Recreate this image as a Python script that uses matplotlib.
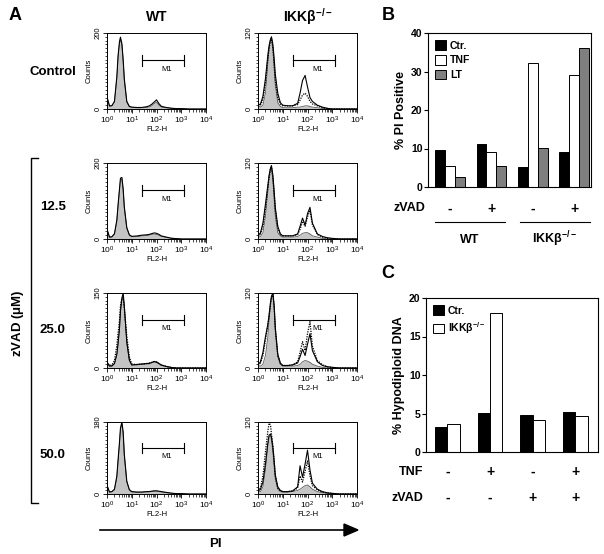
import numpy as np
import matplotlib
matplotlib.use('Agg')
import matplotlib.pyplot as plt
from matplotlib.ticker import MultipleLocator, FixedLocator, LogLocator, NullFormatter

plt.rcParams['font.family'] = ['Liberation Sans', 'DejaVu Sans']
plt.rcParams['mathtext.default'] = 'regular'

W, H = 604, 554

# ---- Panel A: flow histograms (FL2-H channel, counts) ----
FL2 = [1, 1.26, 1.58, 2, 2.5, 2.8, 3.2, 3.5, 4, 4.5, 5, 6.3, 8, 10, 16, 25, 40, 50,
       63, 80, 100, 126, 158, 250, 400, 630, 1000, 2000, 4000, 10000]

row_labels = ['Control', '12.5', '25.0', '50.0']
col_labels = ['WT', r'IKK$\beta^{-/-}$']
y_max = [[200, 120], [200, 120], [150, 120], [180, 120]]

# gray filled (untreated), solid outline, dotted outline
wt_ctrl_gray = [30, 8, 8, 18, 80, 135, 172, 182, 168, 125, 75, 18, 6, 4, 3, 3, 4, 5, 8, 14, 18, 10, 5, 3, 2, 1, 1, 0, 0, 0]
wt_ctrl_solid = [32, 8, 9, 20, 85, 140, 178, 189, 172, 130, 80, 20, 7, 5, 4, 4, 6, 8, 12, 18, 24, 14, 7, 4, 2, 1, 1, 0, 0, 0]

ikk_ctrl_gray = [5, 3, 6, 25, 70, 95, 110, 113, 95, 65, 38, 10, 4, 2, 2, 2, 3, 3, 4, 5, 5, 4, 3, 2, 1, 0, 0, 0, 0, 0]
ikk_ctrl_solid = [6, 8, 20, 48, 85, 100, 110, 114, 102, 80, 55, 25, 10, 6, 5, 5, 9, 25, 45, 53, 35, 18, 12, 6, 3, 1, 0, 0, 0, 0]
ikk_ctrl_dot = [5, 6, 15, 40, 80, 95, 108, 110, 96, 70, 45, 18, 8, 5, 5, 5, 7, 14, 22, 25, 20, 12, 8, 5, 2, 1, 0, 0, 0, 0]

wt_12_gray = [25, 5, 5, 12, 45, 85, 128, 155, 158, 128, 82, 28, 10, 6, 6, 8, 9, 10, 12, 13, 12, 10, 7, 4, 2, 1, 0, 0, 0, 0]
wt_12_solid = [26, 5, 6, 14, 50, 90, 132, 160, 162, 132, 85, 30, 11, 7, 8, 10, 11, 12, 14, 16, 15, 12, 8, 5, 2, 1, 0, 0, 0, 0]

ikk_12_gray = [5, 4, 10, 35, 75, 100, 112, 112, 92, 62, 36, 10, 5, 3, 3, 3, 4, 6, 9, 10, 10, 8, 5, 3, 1, 0, 0, 0, 0, 0]
ikk_12_solid = [5, 10, 25, 55, 85, 100, 112, 116, 100, 75, 50, 20, 8, 5, 5, 5, 8, 20, 33, 22, 40, 50, 25, 8, 4, 2, 1, 0, 0, 0]
ikk_12_dot = [5, 8, 20, 48, 80, 96, 110, 114, 98, 72, 46, 18, 7, 5, 5, 5, 7, 15, 28, 20, 35, 45, 22, 7, 3, 1, 0, 0, 0, 0]

wt_25_gray = [12, 4, 4, 8, 25, 45, 75, 110, 135, 145, 120, 50, 15, 6, 6, 7, 8, 8, 10, 12, 11, 8, 5, 3, 1, 0, 0, 0, 0, 0]
wt_25_solid = [12, 4, 4, 9, 28, 50, 80, 115, 140, 150, 125, 52, 16, 6, 7, 8, 9, 9, 11, 13, 12, 9, 6, 3, 1, 0, 0, 0, 0, 0]
wt_25_dot = [12, 5, 6, 15, 45, 70, 95, 125, 140, 140, 120, 65, 22, 8, 7, 8, 9, 10, 11, 13, 12, 9, 6, 3, 1, 0, 0, 0, 0, 0]

ikk_25_gray = [4, 3, 6, 20, 50, 75, 100, 112, 118, 95, 60, 18, 6, 3, 3, 3, 4, 6, 10, 12, 11, 9, 6, 3, 1, 0, 0, 0, 0, 0]
ikk_25_solid = [5, 10, 25, 50, 70, 85, 105, 115, 120, 100, 65, 22, 8, 4, 4, 5, 8, 18, 30, 20, 38, 55, 28, 10, 4, 2, 1, 0, 0, 0]
ikk_25_dot = [5, 8, 20, 45, 68, 82, 102, 113, 118, 98, 62, 20, 7, 4, 4, 5, 10, 25, 42, 28, 55, 74, 35, 12, 5, 2, 1, 0, 0, 0]

wt_50_gray = [20, 5, 5, 10, 40, 80, 125, 160, 175, 150, 95, 30, 10, 5, 4, 4, 5, 5, 6, 7, 7, 6, 5, 3, 2, 1, 1, 0, 0, 0]
wt_50_solid = [22, 5, 6, 12, 45, 85, 130, 165, 180, 155, 100, 32, 11, 6, 5, 5, 6, 6, 7, 8, 8, 7, 6, 4, 2, 1, 1, 0, 0, 0]

ikk_50_gray = [5, 4, 12, 40, 80, 95, 98, 90, 70, 45, 25, 8, 4, 3, 3, 4, 6, 8, 11, 14, 15, 12, 8, 4, 2, 1, 0, 0, 0, 0]
ikk_50_solid = [5, 8, 20, 50, 85, 98, 100, 95, 78, 55, 32, 12, 6, 4, 4, 5, 12, 47, 28, 50, 73, 40, 18, 8, 4, 2, 1, 0, 0, 0]
ikk_50_dot = [5, 10, 30, 70, 105, 118, 115, 100, 80, 55, 30, 10, 5, 4, 4, 5, 10, 30, 20, 38, 55, 30, 14, 7, 3, 2, 1, 0, 0, 0]

hist_data = [
    [(wt_ctrl_gray, wt_ctrl_solid, None), (ikk_ctrl_gray, ikk_ctrl_solid, ikk_ctrl_dot)],
    [(wt_12_gray, wt_12_solid, None), (ikk_12_gray, ikk_12_solid, ikk_12_dot)],
    [(wt_25_gray, wt_25_solid, wt_25_dot), (ikk_25_gray, ikk_25_solid, ikk_25_dot)],
    [(wt_50_gray, wt_50_solid, None), (ikk_50_gray, ikk_50_solid, ikk_50_dot)],
]

# ---- Panel B ----
b_groups = ['-', '+', '-', '+']
b_ctr = [9.5, 11.2, 5.2, 9.2]
b_tnf = [5.5, 9.2, 32.2, 29.2]
b_lt = [2.5, 5.5, 10.2, 36.1]

# ---- Panel C ----
c_tnf = ['-', '+', '-', '+']
c_zvad = ['-', '-', '+', '+']
c_ctr = [3.2, 5.1, 4.8, 5.2]
c_ikk = [3.6, 18.0, 4.1, 4.7]


def box(l, t, r, b):
    return [l / W, 1 - b / H, (r - l) / W, (b - t) / H]


def fx(x):
    return x / W


def fy(y):
    return 1 - y / H


fig = plt.figure(figsize=(W / 100, H / 100), dpi=100)

col_x = [(107, 206), (258, 357)]
row_y = [(33, 109), (163, 239), (293, 368), (422, 494)]

for i in range(4):
    for j in range(2):
        l, r = col_x[j]
        t, b = row_y[i]
        ax = fig.add_axes(box(l, t, r, b))
        gray, solid, dot = hist_data[i][j]
        ax.fill_between(FL2, gray, color='#c4c4c4', lw=0)
        ax.plot(FL2, gray, color='0.35', lw=0.6)
        if dot is not None:
            ax.plot(FL2, dot, color='k', lw=0.9, ls=(0, (1, 1)))
        ax.plot(FL2, solid, color='k', lw=0.8)
        ax.set_xscale('log')
        ax.set_xlim(1, 1e4)
        ax.set_ylim(0, y_max[i][j])
        ax.xaxis.set_major_locator(LogLocator(base=10, numticks=10))
        ax.xaxis.set_minor_locator(LogLocator(base=10, subs=np.arange(2, 10), numticks=10))
        ax.xaxis.set_minor_formatter(NullFormatter())
        ax.yaxis.set_major_locator(FixedLocator([0, y_max[i][j]]))
        ax.yaxis.set_minor_locator(MultipleLocator(y_max[i][j] / 20))
        ax.tick_params(axis='x', which='major', labelsize=6, length=3, width=0.6, pad=1)
        ax.tick_params(axis='x', which='minor', length=2, width=0.5)
        ax.tick_params(axis='y', which='major', labelsize=5.5, length=3, width=0.6, pad=1)
        ax.tick_params(axis='y', which='minor', length=1.5, width=0.5)
        for lab in ax.get_yticklabels():
            lab.set_rotation(90)
            lab.set_va('center')
        for s in ax.spines.values():
            s.set_linewidth(0.7)
        ax.set_xlabel('FL2-H', fontsize=5.5, labelpad=0)
        ax.set_ylabel('Counts', fontsize=5.5, labelpad=1)
        # M1 marker
        tr = ax.get_xaxis_transform()
        ax.plot([25, 1250], [0.64, 0.64], color='k', lw=0.8, transform=tr)
        ax.plot([25, 25], [0.57, 0.71], color='k', lw=0.8, transform=tr)
        ax.plot([1250, 1250], [0.57, 0.71], color='k', lw=0.8, transform=tr)
        ax.text(250, 0.52, 'M1', fontsize=5.5, ha='center', va='center', transform=tr)

# Panel A annotations
fig.text(fx(15), fy(16), 'A', fontsize=13, fontweight='bold', ha='center', va='center')
fig.text(fx(157), fy(17), col_labels[0], fontsize=10, fontweight='bold', ha='center', va='center')
fig.text(fx(308), fy(17), col_labels[1], fontsize=10, fontweight='bold', ha='center', va='center')
fig.text(fx(76), fy(72), row_labels[0], fontsize=9.5, fontweight='bold', ha='right', va='center')
for lab, yy in zip(row_labels[1:], [207, 330, 455]):
    fig.text(fx(40), fy(yy), lab, fontsize=9.5, fontweight='bold', ha='left', va='center')
fig.add_artist(plt.Line2D([fx(38), fx(31), fx(31), fx(38)], [fy(158), fy(158), fy(503), fy(503)],
                          color='k', lw=1.0))
fig.text(fx(18), fy(323), r'zVAD ($\mu$M)', fontsize=9.5, fontweight='bold', rotation=90,
         ha='center', va='center')
fig.add_artist(plt.Line2D([fx(100), fx(346)], [fy(530), fy(530)], color='k', lw=1.2))
fig.add_artist(plt.Polygon([[fx(344), fy(524)], [fx(358), fy(530)], [fx(344), fy(536)]],
                           closed=True, color='k'))
fig.text(fx(215), fy(544), 'PI', fontsize=9.5, fontweight='bold', ha='center', va='center')

# ---- Panel B ----
axb = fig.add_axes(box(428, 33, 591, 187))
xb = np.arange(4)
wb = 0.24
axb.bar(xb - wb, b_ctr, wb, color='k', edgecolor='k', lw=0.7, label='Ctr.')
axb.bar(xb, b_tnf, wb, color='white', edgecolor='k', lw=0.7, label='TNF')
axb.bar(xb + wb, b_lt, wb, color='#7f7f7f', edgecolor='k', lw=0.7, label='LT')
axb.set_xlim(-0.53, 3.4)
axb.set_ylim(0, 40)
axb.set_yticks([0, 10, 20, 30, 40])
axb.set_xticks([])
axb.tick_params(axis='y', labelsize=7.5, length=3, width=0.8, pad=1)
for lab in axb.get_yticklabels():
    lab.set_fontweight('bold')
for s in axb.spines.values():
    s.set_linewidth(0.8)
axb.set_ylabel('% PI Positive', fontsize=9, fontweight='bold', labelpad=3)
axb.legend(loc='upper left', frameon=False, fontsize=7.5, handlelength=1.0, handleheight=1.0,
           handletextpad=0.4, labelspacing=0.45, borderaxespad=0.3,
           prop={'weight': 'bold', 'size': 7.5})
for k, g in enumerate(b_groups):
    axb.text(k, -0.14, g, transform=axb.get_xaxis_transform(), fontsize=10, fontweight='bold',
             ha='center', va='center')
fig.text(fx(409), fy(208), 'zVAD', fontsize=9, fontweight='bold', ha='center', va='center')
fig.add_artist(plt.Line2D([fx(435), fx(505)], [fy(222), fy(222)], color='k', lw=0.8))
fig.add_artist(plt.Line2D([fx(520), fx(590)], [fy(222), fy(222)], color='k', lw=0.8))
fig.text(fx(470), fy(240), 'WT', fontsize=9, fontweight='bold', ha='center', va='center')
fig.text(fx(555), fy(239), r'IKK$\beta^{-/-}$', fontsize=9, fontweight='bold', ha='center', va='center')
fig.text(fx(388), fy(16), 'B', fontsize=13, fontweight='bold', ha='center', va='center')

# ---- Panel C ----
axc = fig.add_axes(box(426, 298, 598, 452))
xc = np.arange(4)
wc = 0.29
axc.bar(xc - wc / 2, c_ctr, wc, color='k', edgecolor='k', lw=0.7, label='Ctr.')
axc.bar(xc + wc / 2, c_ikk, wc, color='white', edgecolor='k', lw=0.7, label=r'IKK$\beta^{-/-}$')
axc.set_xlim(-0.5, 3.53)
axc.set_ylim(0, 20)
axc.set_yticks([0, 5, 10, 15, 20])
axc.set_xticks([])
axc.tick_params(axis='y', labelsize=7.5, length=3, width=0.8, pad=1)
for lab in axc.get_yticklabels():
    lab.set_fontweight('bold')
for s in axc.spines.values():
    s.set_linewidth(0.8)
axc.set_ylabel('% Hypodiploid DNA', fontsize=9, fontweight='bold', labelpad=3)
axc.legend(loc='upper left', frameon=False, handlelength=1.0, handleheight=1.0,
           handletextpad=0.4, labelspacing=0.45, borderaxespad=0.3,
           prop={'weight': 'bold', 'size': 7.5})
for k in range(4):
    axc.text(k, -0.13, c_tnf[k], transform=axc.get_xaxis_transform(), fontsize=10,
             fontweight='bold', ha='center', va='center')
    axc.text(k, -0.30, c_zvad[k], transform=axc.get_xaxis_transform(), fontsize=10,
             fontweight='bold', ha='center', va='center')
fig.text(fx(423), fy(472), 'TNF', fontsize=9, fontweight='bold', ha='right', va='center')
fig.text(fx(423), fy(498), 'zVAD', fontsize=9, fontweight='bold', ha='right', va='center')
fig.text(fx(388), fy(273), 'C', fontsize=13, fontweight='bold', ha='center', va='center')

fig.savefig('out.png', dpi=100)
